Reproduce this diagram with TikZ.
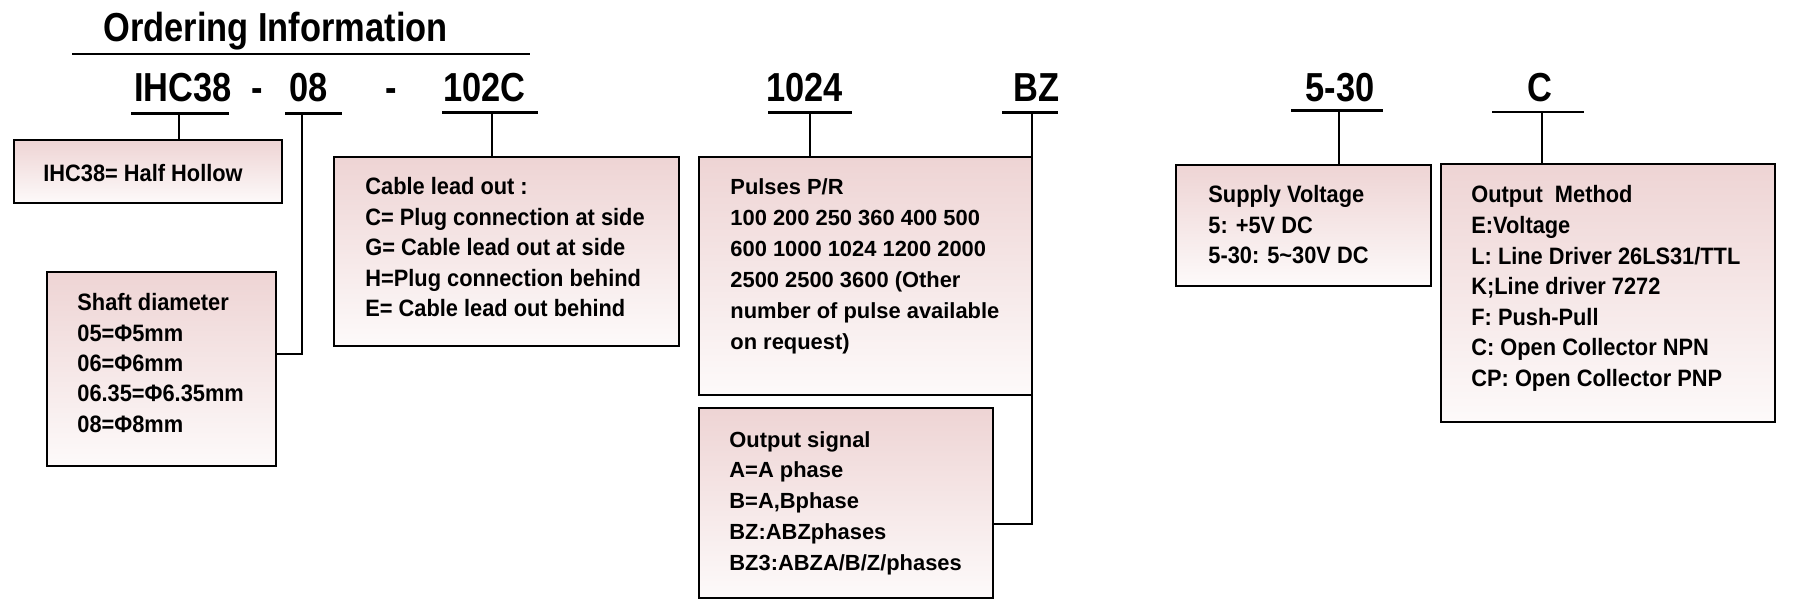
\documentclass[tikz,border=0pt]{standalone}
\usepackage{fontspec}
\setmainfont{Liberation Sans}
\newfontfamily\condA[FakeStretch=0.85]{Liberation Sans}
\newfontfamily\condB[FakeStretch=0.92]{Liberation Sans}
\usetikzlibrary{fit}
\definecolor{boxtop}{RGB}{238,212,212}
\definecolor{boxbot}{RGB}{253,250,250}
\tikzset{
  titletxt/.style={font=\condA\bfseries\fontsize{20.25}{24}\selectfont, anchor=base west, inner sep=0},
  codetxt/.style={font=\condA\bfseries\fontsize{20.25}{24}\selectfont, anchor=base west, inner sep=0},
  dashtxt/.style={font=\condA\bfseries\fontsize{20.25}{24}\selectfont, anchor=base, inner sep=0},
  ctxt/.style={font=\condB\bfseries\fontsize{11.85}{14}\selectfont, anchor=base west, inner sep=0},
  ptxt/.style={font=\bfseries\fontsize{10.95}{13}\selectfont, anchor=base west, inner sep=0},
  infobox/.style={draw=black, line width=0.9pt, inner sep=0, outer sep=0,
    top color=boxtop, bottom color=boxbot},
  uline/.style={line width=1.25pt},
  conn/.style={line width=1pt},
}
\begin{document}
\begin{tikzpicture}[x=0.5pt,y=-0.5pt]
\useasboundingbox (0,0) rectangle (1794,609);
\fill[white] (0,0) rectangle (1794,609);

% title
\node[titletxt] (title) at (103,42) {Ordering Information};
\coordinate (tl) at (72,54);
\coordinate (tr) at (530,54);
\draw[uline] (tl) -- (tr);

% code labels
\node[codetxt] (c1) at (134,102) {IHC38};
\node[dashtxt] (d1) at (257,102) {-};
\node[codetxt] (c2) at (289,102) {08};
\node[dashtxt] (d2) at (391,102) {-};
\node[codetxt] (c3) at (443,102) {102C};
\node[codetxt] (c4) at (766,102) {1024};
\node[codetxt] (c5) at (1013,102) {BZ};
\node[codetxt] (c6) at (1305,102) {5-30};
\node[codetxt] (c7) at (1527,102) {C};

% underlines
\coordinate (u1a) at (131,113.5); \coordinate (u1b) at (229,113.5);
\coordinate (u2a) at (285,113.5); \coordinate (u2b) at (342,113.5);
\coordinate (u3a) at (442,112.5); \coordinate (u3b) at (538,112.5);
\coordinate (u4a) at (768,112.5); \coordinate (u4b) at (852,112.5);
\coordinate (u5a) at (1002,112.5); \coordinate (u5b) at (1058,112.5);
\coordinate (u6a) at (1291,110.5); \coordinate (u6b) at (1383,110.5);
\coordinate (u7a) at (1492,112); \coordinate (u7b) at (1584,112);
\draw[uline] (u1a) -- (u1b);
\draw[uline, line width=1.7pt] (u2a) -- (u2b);
\draw[uline] (u3a) -- (u3b);
\draw[uline] (u4a) -- (u4b);
\draw[uline] (u5a) -- (u5b);
\draw[uline] (u6a) -- (u6b);
\draw[uline] (u7a) -- (u7b);

% boxes
\node[infobox, fit={(14,140) (282,203)}] (b1) {};
\node[infobox, fit={(47,272) (276,466)}] (b2) {};
\node[infobox, fit={(334,157) (679,346)}] (b3) {};
\node[infobox, fit={(699,157) (1032,395)}] (b4) {};
\node[infobox, fit={(699,408) (993,598)}] (b5) {};
\node[infobox, fit={(1176,165) (1431,286)}] (b6) {};
\node[infobox, fit={(1441,164) (1775,422)}] (b7) {};

% connectors
\coordinate (k1) at (179,114);
\coordinate (k2) at (302,114);
\coordinate (k3) at (492,113);
\coordinate (k4) at (810,113);
\coordinate (k5) at (1032,113);
\coordinate (k6) at (1339,111);
\coordinate (k7) at (1542,112);
\coordinate (k2e) at (302,354);
\coordinate (k5e) at (1032,524);
\draw[conn] (k1) -- (k1 |- b1.north);
\draw[conn] (k2) -- (k2e) -- (k2e -| b2.east);
\draw[conn] (k3) -- (k3 |- b3.north);
\draw[conn] (k4) -- (k4 |- b4.north);
\draw[conn] (k5) -- (k5e) -- (k5e -| b5.east);
\draw[conn] (k6) -- (k6 |- b6.north);
\draw[conn] (k7) -- (k7 |- b7.north);

% box texts
\node[ctxt] (t1) at (43,182) {IHC38= Half Hollow};

\foreach \t [count=\i] in {Shaft diameter, 05=Φ5mm, 06=Φ6mm, 06.35=Φ6.35mm, 08=Φ8mm}
  \node[ctxt] (t2-\i) at (77,{311+30.3*(\i-1)}) {\t};

\foreach \t [count=\i] in {Cable lead out :, C= Plug connection at side, G= Cable lead out at side, H=Plug connection behind, E= Cable lead out behind}
  \node[ctxt] (t3-\i) at (365,{195+30.5*(\i-1)}) {\t};

\foreach \t [count=\i] in {Pulses P/R, 100 200 250 360 400 500, 600 1000 1024 1200 2000, 2500 2500 3600 (Other, number of pulse available, on request)}
  \node[ptxt] (t4-\i) at (730,{195+30.9*(\i-1)}) {\t};

\foreach \t [count=\i] in {Output signal, A=A phase, {B=A,Bphase}, BZ:ABZphases, BZ3:ABZA/B/Z/phases}
  \node[ptxt] (t5-\i) at (729,{447+30.9*(\i-1)}) {\t};

\foreach \t [count=\i] in {Supply Voltage, 5: +5V DC, 5-30: 5\textasciitilde30V DC}
  \node[ctxt] (t6-\i) at (1208,{203+30.5*(\i-1)}) {\t};

\foreach \t [count=\i] in {Output\ \ Method, E:Voltage, L: Line Driver 26LS31/TTL, K;Line driver 7272, F: Push-Pull, C: Open Collector NPN, CP: Open Collector PNP}
  \node[ctxt] (t7-\i) at (1471,{203+30.6*(\i-1)}) {\t};
\end{tikzpicture}
\end{document}
